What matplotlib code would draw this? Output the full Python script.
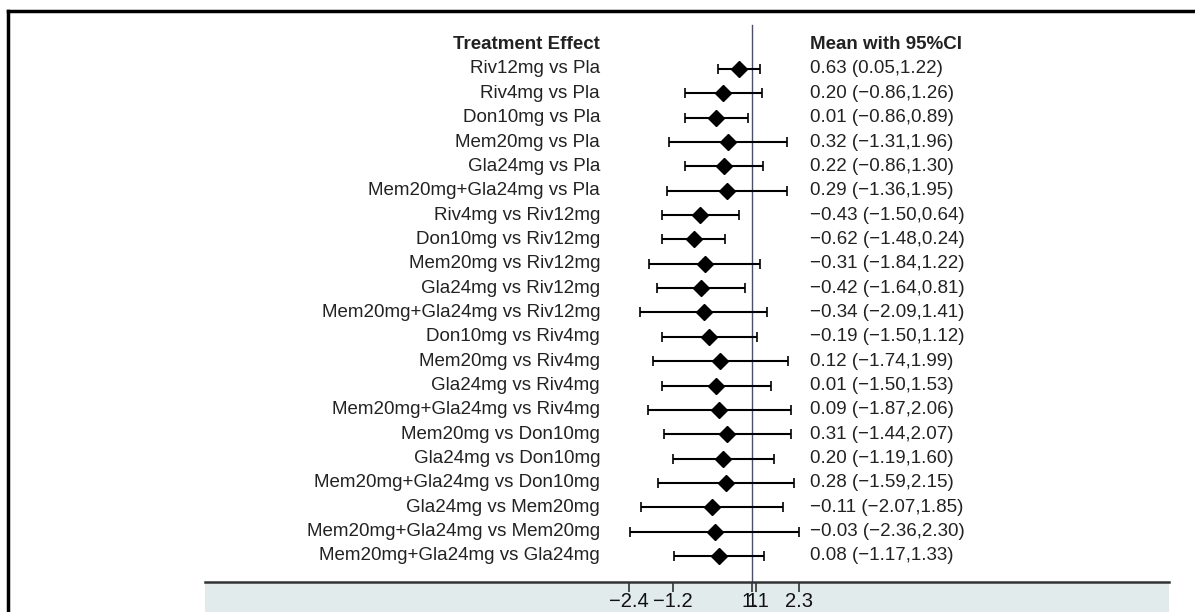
import matplotlib.pyplot as plt
from matplotlib.lines import Line2D
from matplotlib.patches import Rectangle

plt.rcParams['font.family'] = ['Liberation Sans', 'DejaVu Sans']

# comparisons, means and 95% CI
labels = [
    "Riv12mg vs Pla", "Riv4mg vs Pla", "Don10mg vs Pla", "Mem20mg vs Pla",
    "Gla24mg vs Pla", "Mem20mg+Gla24mg vs Pla", "Riv4mg vs Riv12mg",
    "Don10mg vs Riv12mg", "Mem20mg vs Riv12mg", "Gla24mg vs Riv12mg",
    "Mem20mg+Gla24mg vs Riv12mg", "Don10mg vs Riv4mg", "Mem20mg vs Riv4mg",
    "Gla24mg vs Riv4mg", "Mem20mg+Gla24mg vs Riv4mg", "Mem20mg vs Don10mg",
    "Gla24mg vs Don10mg", "Mem20mg+Gla24mg vs Don10mg", "Gla24mg vs Mem20mg",
    "Mem20mg+Gla24mg vs Mem20mg", "Mem20mg+Gla24mg vs Gla24mg",
]
means = [0.63, 0.20, 0.01, 0.32, 0.22, 0.29, -0.43, -0.62, -0.31, -0.42, -0.34,
         -0.19, 0.12, 0.01, 0.09, 0.31, 0.20, 0.28, -0.11, -0.03, 0.08]
lower = [0.05, -0.86, -0.86, -1.31, -0.86, -1.36, -1.50, -1.48, -1.84, -1.64, -2.09,
         -1.50, -1.74, -1.50, -1.87, -1.44, -1.19, -1.59, -2.07, -2.36, -1.17]
upper = [1.22, 1.26, 0.89, 1.96, 1.30, 1.95, 0.64, 0.24, 1.22, 0.81, 1.41,
         1.12, 1.99, 1.53, 2.06, 2.07, 1.60, 2.15, 1.85, 2.30, 1.33]
xticks = [-2.4, -1.2, 1, 1.1, 2.3]


def fmt(v):
    s = "%.2f" % abs(v)
    return ("\u2212" + s) if v < 0 else s


fig = plt.figure(figsize=(11.95, 6.12), dpi=100)
ax = fig.add_axes([205 / 1195, 30 / 612, (1169 - 205) / 1195, (600 - 30) / 612])
ax.set_zorder(2)

# light band under the axis
fig.patches.append(Rectangle((205 / 1195, 0), (1169 - 205) / 1195, 30 / 612,
                             transform=fig.transFigure, facecolor="#e1ebec",
                             edgecolor="none", zorder=-1))
# frame lines top and left
fig.lines.append(Line2D([8 / 1195, 1], [1 - 11 / 612, 1 - 11 / 612],
                        transform=fig.transFigure, color="black", lw=2.5))
fig.lines.append(Line2D([8 / 1195, 8 / 1195], [0, 1 - 11 / 612],
                        transform=fig.transFigure, color="black", lw=2.5))

y = list(range(len(labels)))
err = [[m - l for m, l in zip(means, lower)], [u - m for m, u in zip(means, upper)]]
ax.errorbar(means, y, xerr=err, fmt="D", color="black", ms=8, lw=1.5,
            capsize=3.5, capthick=1.2, zorder=3)

ax.plot([1, 1], [-1.8, 21.07], color="#4a4f70", lw=1.0, zorder=2)

for i, lab in enumerate(labels):
    ax.text(-3.2, i, lab, ha="right", va="center", fontsize=13.5, color="#222222")
    ax.text(2.6, i, "%s (%s,%s)" % (fmt(means[i]), fmt(lower[i]), fmt(upper[i])),
            ha="left", va="center", fontsize=13.5, color="#222222")

ax.text(-3.2, -1, "Treatment Effect", ha="right", va="center", fontsize=13.5,
        fontweight="bold", color="#222222")
ax.text(2.6, -1, "Mean with 95%CI", ha="left", va="center", fontsize=13.5,
        fontweight="bold", color="#222222")

ax.set_xlim(-14.1, 12.5)
ax.set_ylim(21.07, -2.34)
ax.set_xticks(xticks)
ax.set_xticklabels(["\u22122.4", "\u22121.2", "1", "1.1", "2.3"])
ax.set_yticks([])
ax.tick_params(axis="x", direction="out", length=7, width=1.2, labelsize=14.5,
               pad=0, color="#333333", labelcolor="#111111")
for side in ["top", "left", "right"]:
    ax.spines[side].set_visible(False)
ax.spines["bottom"].set_linewidth(1.8)
ax.spines["bottom"].set_color("#333333")
ax.patch.set_alpha(0)

fig.savefig("out.png", dpi=100)
